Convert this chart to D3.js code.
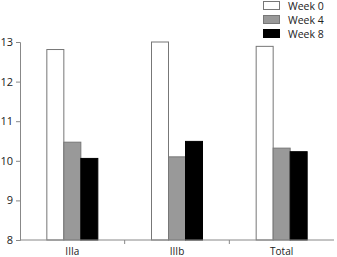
<!DOCTYPE html>
<html>
<head>
<meta charset="utf-8">
<script src="https://cdn.jsdelivr.net/npm/d3@7"></script>
<style>
body { margin: 0; background: #fff; }
text { font-family: "Open Sans", "DejaVu Sans", sans-serif; fill: #222; }
</style>
</head>
<body>
<div id="chart"></div>
<script>
// data
let groups = ["IIIa", "IIIb", "Total"];
let series = ["Week 0", "Week 4", "Week 8"];
let week0 = [12.81, 13.0, 12.89];
let week4 = [10.47, 10.10, 10.32];
let week8 = [10.06, 10.49, 10.23];
let yTicks = [8, 9, 10, 11, 12, 13];
let colors = ["#ffffff", "#999999", "#000000"];

let values = [week0, week4, week8];

let width = 337, height = 257;
let margin = {top: 42, right: 3, bottom: 17, left: 20};

let svg = d3.select("#chart")
    .append("svg")
    .attr("width", width)
    .attr("height", height);

// x scale by group
let x = d3.scaleBand()
    .domain(groups)
    .range([margin.left, width - margin.right]);

// inner scale by series
let xs = d3.scaleBand()
    .domain(series)
    .range([0, 51]);

let y = d3.scaleLinear()
    .domain([8, 13])
    .range([height - margin.bottom, margin.top]);

// bars
groups.forEach((g, gi) => {
    let off = x(g) + (x.bandwidth() - 51) / 2;
    svg.selectAll(null)
        .data(series)
        .enter()
        .append("rect")
        .attr("x", s => off + xs(s))
        .attr("y", (s, si) => y(values[si][gi]))
        .attr("width", xs.bandwidth())
        .attr("height", (s, si) => y(8) - y(values[si][gi]))
        .attr("fill", (s, si) => colors[si])
        .attr("stroke", (s, si) => si === 2 ? "#000" : "#777")
        .attr("stroke-width", 1);
});

// y axis
let yAxis = d3.axisLeft(y).tickValues(yTicks).tickFormat(d3.format("d")).tickSize(4).tickPadding(3);
let gy = svg.append("g")
    .attr("transform", "translate(" + margin.left + ",0)")
    .call(yAxis);
gy.select(".domain").attr("stroke", "#888");
gy.selectAll(".tick line").attr("stroke", "#888");
gy.selectAll("text").attr("font-size", "11px").attr("fill", "#222");

// x axis with ticks at group boundaries
let gx = svg.append("g")
    .attr("transform", "translate(0," + y(8) + ")");
gx.append("line")
    .attr("x1", margin.left).attr("x2", width - margin.right)
    .attr("stroke", "#888");
gx.selectAll(".bnd")
    .data(groups.slice(1))
    .enter()
    .append("line")
    .attr("x1", d => x(d)).attr("x2", d => x(d))
    .attr("y1", 0).attr("y2", 4)
    .attr("stroke", "#888");
gx.selectAll(".lbl")
    .data(groups)
    .enter()
    .append("text")
    .attr("x", d => x(d) + x.bandwidth() / 2)
    .attr("y", 15)
    .attr("text-anchor", "middle")
    .attr("font-size", "10px")
    .text(d => d);

// legend
let legend = svg.append("g").attr("transform", "translate(263,1)");
series.forEach((s, i) => {
    legend.append("rect")
        .attr("x", 0.5)
        .attr("y", i * 14 + 0.5)
        .attr("width", 16)
        .attr("height", 8)
        .attr("fill", colors[i])
        .attr("stroke", i === 2 ? "#000" : "#777");
    legend.append("text")
        .attr("x", 25)
        .attr("y", i * 14 + 8.5)
        .attr("font-size", "10.5px")
        .text(s);
});
</script>
</body>
</html>
